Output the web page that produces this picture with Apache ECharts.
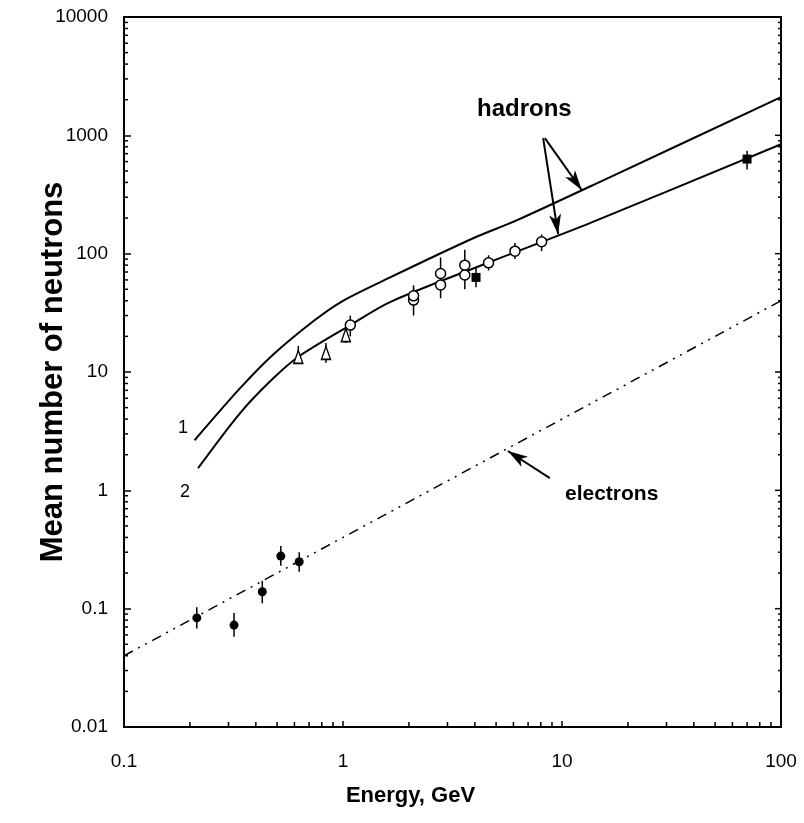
<!DOCTYPE html>
<html>
<head>
<meta charset="utf-8">
<script src="https://cdn.jsdelivr.net/npm/echarts@6/dist/echarts.min.js"></script>
<style>html,body{margin:0;padding:0;background:#fff}#c{width:804px;height:823px}</style>
</head>
<body>
<div id="c"></div>
<script>
// ---- data ----
const xTickLabels = ['0.1', '1', '10', '100'];
const yTickLabels = ['0.01', '0.1', '1', '10', '100', '1000', '10000'];

// hadron curves (energy GeV, mean neutrons)
const curve1 = [[0.21, 2.65], [0.339, 7.3], [0.479, 14.0], [0.744, 27.5], [1.0, 40], [1.64, 63], [3.93, 135], [6.24, 192], [16.6, 444], [100, 2100]];
const curve2 = [[0.218, 1.54], [0.339, 4.5], [0.479, 8.8], [0.624, 13.4], [1.08, 24.9], [1.64, 39], [4.69, 85], [13.4, 181], [100, 840]];
// electrons line
const electronLine = [[0.1, 0.04], [100, 40]];

// electron data points [E, value, low, high]
const electronPts = [[0.215, 0.0835, 0.068, 0.103], [0.318, 0.0726, 0.058, 0.092], [0.428, 0.139, 0.111, 0.172], [0.52, 0.278, 0.23, 0.339], [0.631, 0.249, 0.205, 0.30]];
// open triangles
const trianglePts = [[0.625, 13.4, 12.3, 16.6], [0.836, 14.5, 12.0, 17.6], [1.03, 20.5, 17.6, 24]];
// open circles
const circlePts = [[1.08, 24.9, 20, 30], [2.1, 40.5, 30, 54], [2.1, 44, 36, 50], [2.79, 68, 54, 93], [2.79, 54.3, 42, 60], [3.6, 80, 66, 108], [3.6, 66, 50, 72], [4.62, 83.7, 72, 97], [6.1, 105, 90, 123], [8.07, 126, 105, 145]];
// filled squares
const squarePts = [[4.05, 63, 52, 76], [70, 630, 515, 740]];

// ---- chart ----
const chart = echarts.init(document.getElementById('c'), null, {renderer: 'canvas'});

function errBars(arr) { return arr.map(d => [d[0], d[2], d[3]]); }
function pts(arr) { return arr.map(d => [d[0], d[1]]); }

const tickMarks = [];
for (let e = -2; e < 4; e++) for (let k = 2; k <= 9; k++) tickMarks.push({axis: 'y', v: k * Math.pow(10, e), len: 4});
for (let e = -2; e <= 4; e++) tickMarks.push({axis: 'yR', v: Math.pow(10, e), len: 6});
for (let e = -1; e < 2; e++) for (let k = 2; k <= 9; k++) tickMarks.push({axis: 'x', v: k * Math.pow(10, e), len: 5});

const tickSeries = {
  type: 'custom', silent: true, z: 10,
  data: tickMarks.map((m, i) => [i]),
  renderItem: function (params, api) {
    const m = tickMarks[params.dataIndex];
    const children = [];
    const st = {stroke: '#000', lineWidth: 1.5};
    if (m.axis === 'y') {
      const pL = api.coord([0.1, m.v]);
      const pR = api.coord([100, m.v]);
      children.push({type: 'line', shape: {x1: pL[0], y1: pL[1], x2: pL[0] + m.len, y2: pL[1]}, style: st});
      children.push({type: 'line', shape: {x1: pR[0], y1: pR[1], x2: pR[0] - 3, y2: pR[1]}, style: st});
    } else if (m.axis === 'yR') {
      const pR = api.coord([100, m.v]);
      children.push({type: 'line', shape: {x1: pR[0], y1: pR[1], x2: pR[0] - m.len, y2: pR[1]}, style: st});
    } else {
      const pB = api.coord([m.v, 0.01]);
      children.push({type: 'line', shape: {x1: pB[0], y1: pB[1], x2: pB[0], y2: pB[1] - m.len}, style: st});
    }
    return {type: 'group', children: children};
  }
};

function errSeries(data) {
  return {
    type: 'custom', silent: true, z: 3,
    data: data,
    renderItem: function (params, api) {
      const a = api.coord([api.value(0), api.value(1)]);
      const b = api.coord([api.value(0), api.value(2)]);
      return {type: 'line', shape: {x1: a[0], y1: a[1], x2: b[0], y2: b[1]}, style: {stroke: '#000', lineWidth: 1.5}};
    }
  };
}

const labelFont = {fontFamily: 'Liberation Sans, Arial, sans-serif', fontSize: 19, color: '#000'};

chart.setOption({
  animation: false,
  backgroundColor: '#fff',
  grid: {left: 124, top: 17, width: 657, height: 710, show: true, borderColor: '#000', borderWidth: 2, backgroundColor: 'transparent'},
  xAxis: {
    type: 'log', logBase: 10, min: 0.1, max: 100,
    axisLine: {show: true, onZero: false, lineStyle: {color: '#000', width: 2}},
    axisTick: {show: true, inside: true, length: 6, lineStyle: {color: '#000', width: 1.5}},
    splitLine: {show: false},
    axisLabel: Object.assign({margin: 25, formatter: function (v) {
      const i = Math.round(Math.log10(v)) + 1; return xTickLabels[i] !== undefined ? xTickLabels[i] : '';
    }}, labelFont),
    name: 'Energy, GeV', nameLocation: 'middle', nameGap: 58, nameMoveOverlap: false,
    nameTextStyle: {fontFamily: 'Liberation Sans, Arial, sans-serif', fontSize: 22, fontWeight: 'bold', color: '#000', padding: [0, 84, 0, 0]}
  },
  yAxis: {
    type: 'log', logBase: 10, min: 0.01, max: 10000,
    axisLine: {show: true, onZero: false, lineStyle: {color: '#000', width: 2}},
    axisTick: {show: true, inside: true, length: 7, lineStyle: {color: '#000', width: 1.5}},
    splitLine: {show: false},
    axisLabel: Object.assign({margin: 16, formatter: function (v) {
      const i = Math.round(Math.log10(v)) + 2; return yTickLabels[i] !== undefined ? yTickLabels[i] : '';
    }}, labelFont),
    name: 'Mean number of neutrons', nameLocation: 'middle', nameGap: 55, nameMoveOverlap: false,
    nameTextStyle: {fontFamily: 'Liberation Sans Narrow, Arial Narrow, sans-serif', fontSize: 31, fontWeight: 'bold', color: '#000'}
  },
  series: [
    {type: 'line', data: curve1, smooth: 0.3, showSymbol: false, lineStyle: {color: '#000', width: 2}, z: 2,
     markLine: {silent: true, symbol: ['none', 'arrow'], symbolSize: [9, 20], label: {show: false},
       lineStyle: {color: '#000', width: 2, type: 'solid'},
       data: [
         [{coord: [8.35, 948]}, {coord: [12.3, 345]}],
         [{coord: [8.2, 948]}, {coord: [9.6, 146]}],
         [{coord: [8.8, 1.27]}, {coord: [5.66, 2.15]}]
       ]}},
    {type: 'line', data: curve2, smooth: 0.3, showSymbol: false, lineStyle: {color: '#000', width: 2}, z: 2},
    {type: 'line', data: electronLine, showSymbol: false, lineStyle: {color: '#000', width: 1.5, type: [10, 6, 2, 6, 2, 6]}, z: 2},
    errSeries(errBars(electronPts)),
    errSeries(errBars(trianglePts)),
    errSeries(errBars(circlePts)),
    errSeries(errBars(squarePts)),
    {type: 'scatter', data: pts(electronPts), symbol: 'circle', symbolSize: 9, itemStyle: {color: '#000', opacity: 1}, z: 4},
    {type: 'scatter', data: pts(trianglePts), symbol: 'triangle', symbolSize: [9, 13], itemStyle: {color: '#fff', borderColor: '#000', borderWidth: 1.5, opacity: 1}, z: 4},
    {type: 'scatter', data: pts(circlePts), symbol: 'circle', symbolSize: 10, itemStyle: {color: '#fff', borderColor: '#000', borderWidth: 1.5, opacity: 1}, z: 4},
    {type: 'scatter', data: pts(squarePts), symbol: 'rect', symbolSize: 9, itemStyle: {color: '#000', opacity: 1}, z: 4},
    tickSeries
  ],
  graphic: [
    {type: 'text', left: 477, top: 97, style: {text: 'hadrons', font: 'bold 24px "Liberation Sans", Arial, sans-serif', fill: '#000'}},
    {type: 'text', left: 565, top: 484, style: {text: 'electrons', font: 'bold 21px "Liberation Sans", Arial, sans-serif', fill: '#000'}},
    {type: 'text', left: 178, top: 419, style: {text: '1', font: '18px "Liberation Sans", Arial, sans-serif', fill: '#000'}},
    {type: 'text', left: 180, top: 483, style: {text: '2', font: '18px "Liberation Sans", Arial, sans-serif', fill: '#000'}}
  ]
});
</script>
</body>
</html>
